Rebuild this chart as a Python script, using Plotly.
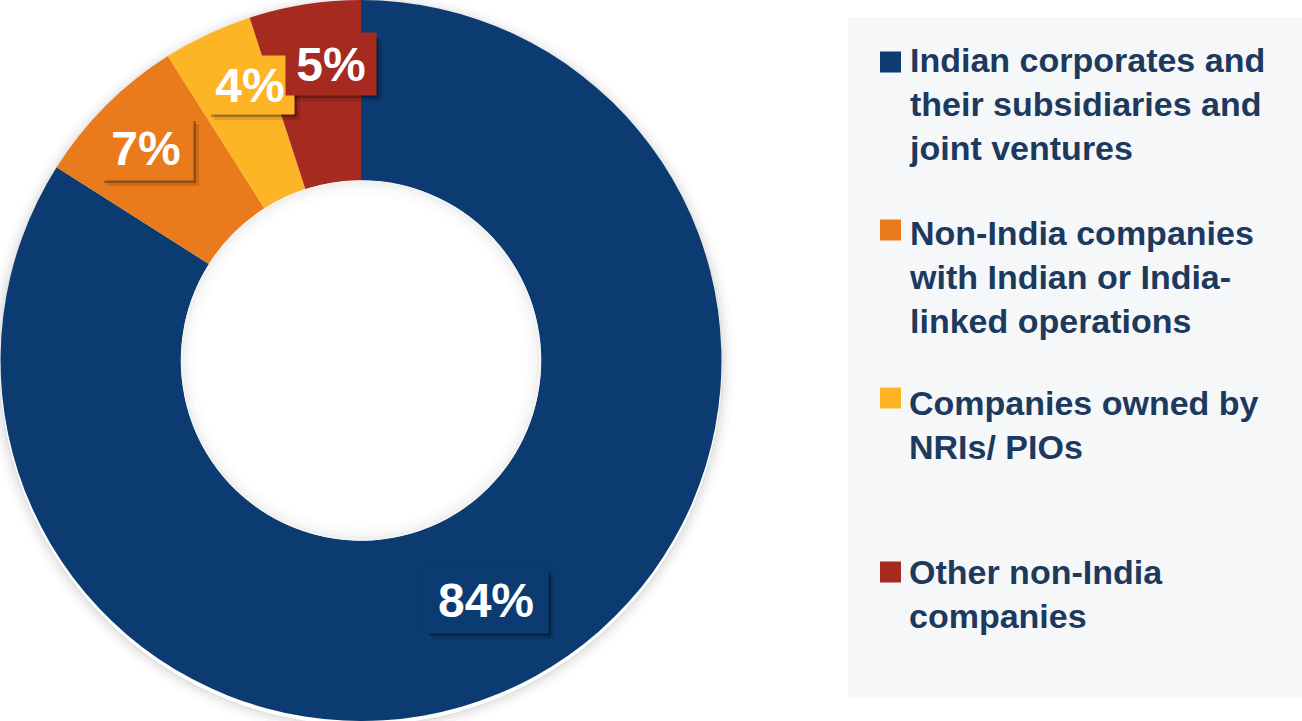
import plotly.graph_objects as go

W, H = 1302, 721

categories = [
    "Indian corporates and<br>their subsidiaries and<br>joint ventures",
    "Non-India companies<br>with Indian or India-<br>linked operations",
    "Companies owned by<br>NRIs/ PIOs",
    "Other non-India<br>companies",
]
shares = [84, 7, 4, 5]
label_texts = ["84%", "7%", "4%", "5%"]
colors = ["#0b3b70", "#e97b1c", "#fdb525", "#a52a1f"]

# layout (pixel positions for label boxes and legend rows)
label_box_centers = [(486, 600), (146, 148), (250, 85), (331, 64)]
label_box_sizes = [(122, 64), (92, 62), (86, 56), (88, 60)]
legend_block_centers = [104, 277, 425, 594]
legend_square_centers = [62, 230, 398, 572]

TEXT_COLOR = "#1c3a5e"
FONT = "Liberation Sans, Arial, sans-serif"


def fx(x):
    return x / W


def fy(y):
    return 1 - y / H


fig = go.Figure()
fig.add_trace(go.Pie(
    values=shares,
    labels=[c.replace("<br>", " ") for c in categories],
    marker=dict(colors=colors, line=dict(width=0)),
    hole=0.5,
    sort=False,
    direction="clockwise",
    rotation=0,
    textinfo="none",
    hoverinfo="label+percent",
    domain=dict(x=[0, 722 / W], y=[0, 1]),
    showlegend=False,
))

shapes = []
# legend panel background
shapes.append(dict(type="rect", xref="paper", yref="paper",
                   x0=fx(848), x1=fx(1302), y0=fy(698), y1=fy(17),
                   fillcolor="#f6f7f9", line=dict(width=0), layer="below"))
# soft shadow around donut (rings only)
cx, cy, R = 361, 364, 361
for dr, a in [(12, 0.02), (8, 0.03), (5, 0.04), (2, 0.05)]:
    r = R + dr / 2
    shapes.append(dict(type="circle", xref="paper", yref="paper",
                       x0=fx(cx - r), x1=fx(cx + r), y0=fy(cy + r), y1=fy(cy - r),
                       fillcolor="rgba(0,0,0,0)", line=dict(width=dr, color=f"rgba(60,60,60,{a})"),
                       layer="below"))
# hole: white with subtle inner shadow
hcx, hcy, hr = 361, 360.5, 180
shapes.append(dict(type="circle", xref="paper", yref="paper",
                   x0=fx(hcx - hr), x1=fx(hcx + hr), y0=fy(hcy + hr), y1=fy(hcy - hr),
                   fillcolor="white", line=dict(width=0), layer="above"))
for w_, a in [(14, 0.02), (8, 0.03), (4, 0.04)]:
    r = hr - w_ / 2
    shapes.append(dict(type="circle", xref="paper", yref="paper",
                       x0=fx(hcx - r), x1=fx(hcx + r), y0=fy(hcy + r), y1=fy(hcy - r),
                       fillcolor="rgba(0,0,0,0)", line=dict(width=w_, color=f"rgba(110,110,110,{a})"),
                       layer="above"))
# label box drop shadows
for (bx, by), (bw, bh) in zip(label_box_centers, label_box_sizes):
    for off, a in [(7, 0.12), (4, 0.28)]:
        shapes.append(dict(type="rect", xref="paper", yref="paper",
                           x0=fx(bx - bw / 2 + off), x1=fx(bx + bw / 2 + off),
                           y0=fy(by + bh / 2 + off), y1=fy(by - bh / 2 + off),
                           fillcolor=f"rgba(0,0,0,{a})", line=dict(width=0), layer="above"))
# legend squares
for yc, col in zip(legend_square_centers, colors):
    shapes.append(dict(type="rect", xref="paper", yref="paper",
                       x0=fx(880), x1=fx(901), y0=fy(yc + 10.5), y1=fy(yc - 10.5),
                       fillcolor=col, line=dict(width=0)))

annotations = []
# value labels
for (bx, by), (bw, bh), txt, col in zip(label_box_centers, label_box_sizes, label_texts, colors):
    annotations.append(dict(xref="paper", yref="paper", x=fx(bx), y=fy(by),
                            text=txt, showarrow=False, width=bw, height=bh, bgcolor=col,
                            font=dict(size=48, color="white", family=FONT, weight="bold"),
                            xanchor="center", yanchor="middle"))
# legend texts
for yc, txt in zip(legend_block_centers, categories):
    annotations.append(dict(xref="paper", yref="paper", x=fx(907), y=fy(yc),
                            text=txt, showarrow=False, align="left",
                            font=dict(size=34, color=TEXT_COLOR, family=FONT, weight="bold"),
                            xanchor="left", yanchor="middle"))

fig.update_layout(
    width=W, height=H,
    margin=dict(l=0, r=0, t=0, b=0),
    paper_bgcolor="white", plot_bgcolor="white",
    shapes=shapes, annotations=annotations,
    showlegend=False,
)

fig.write_html("out.html", config={"displayModeBar": False})
